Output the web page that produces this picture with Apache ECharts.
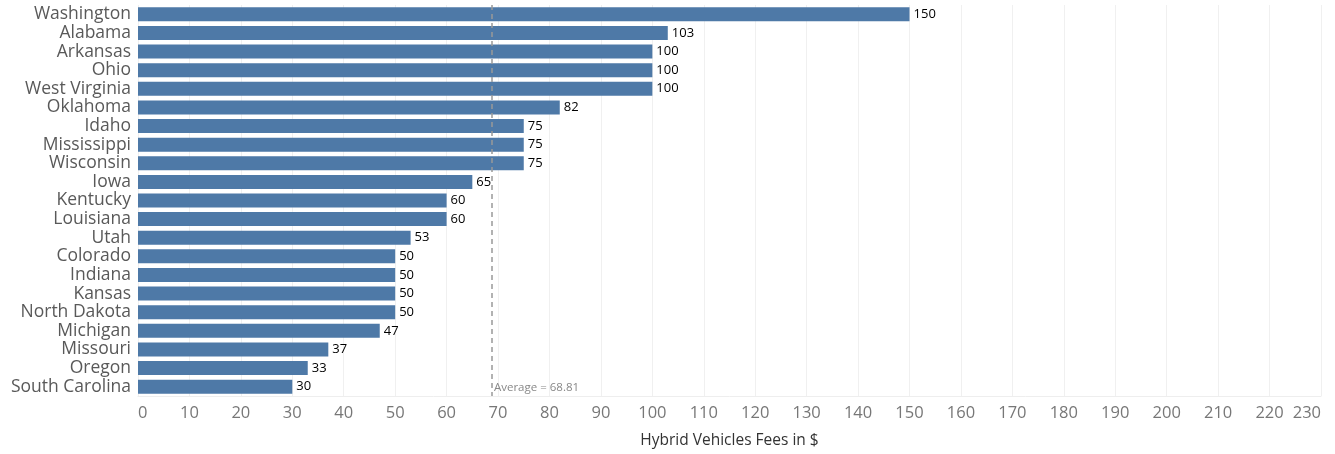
<!DOCTYPE html>
<html>
<head>
<meta charset="utf-8">
<script src="https://cdn.jsdelivr.net/npm/echarts@6/dist/echarts.min.js"></script>
<style>
  html, body { margin: 0; padding: 0; background: #fff; }
  #chart { width: 1335px; height: 454px; }
</style>
</head>
<body>
<div id="chart"></div>
<script>
// states, sorted by fee
const states = ['Washington', 'Alabama', 'Arkansas', 'Ohio', 'West Virginia', 'Oklahoma', 'Idaho',
  'Mississippi', 'Wisconsin', 'Iowa', 'Kentucky', 'Louisiana', 'Utah', 'Colorado', 'Indiana',
  'Kansas', 'North Dakota', 'Michigan', 'Missouri', 'Oregon', 'South Carolina'];
const fees = [150, 103, 100, 100, 100, 82, 75, 75, 75, 65, 60, 60, 53, 50, 50, 50, 50, 47, 37, 33, 30];
const average = 68.81;
const axisTitle = 'Hybrid Vehicles Fees in $';

const chart = echarts.init(document.getElementById('chart'));

chart.setOption({
  animation: false,
  grid: { left: 138, right: 14, top: 5, bottom: 57 },
  xAxis: {
    type: 'value',
    min: 0,
    max: 230,
    interval: 10,
    name: axisTitle,
    nameLocation: 'middle',
    nameGap: 37,
    nameTextStyle: { fontFamily: 'Open Sans', fontSize: 15.5, fontWeight: 500, color: '#333' },
    axisLine: { show: true, lineStyle: { color: '#eeeeee' } },
    axisTick: { show: false },
    axisLabel: {
      fontFamily: 'Open Sans', fontSize: 16.5, color: '#777', margin: 9,
      alignMinLabel: 'left', alignMaxLabel: 'right'
    },
    splitLine: { show: true, lineStyle: { color: '#f0f0f0' } }
  },
  yAxis: {
    type: 'category',
    data: states,
    inverse: true,
    axisLine: { show: false },
    axisTick: { show: false },
    axisLabel: { interval: 0, fontFamily: 'Open Sans', fontSize: 17.5, fontWeight: 500, color: '#595959', margin: 7 }
  },
  series: [{
    type: 'bar',
    data: fees,
    barWidth: 14,
    itemStyle: { color: '#4e79a7' },
    label: {
      show: true, position: 'right', distance: 4,
      fontFamily: 'Open Sans', fontSize: 13, fontWeight: 500, color: '#000'
    },
    markLine: {
      silent: true,
      symbol: 'none',
      lineStyle: { type: [5, 4], color: '#999', width: 1.5 },
      label: {
        show: true, position: 'insideEndTop', formatter: 'Average = ' + average,
        fontFamily: 'Open Sans', fontSize: 11.5, color: '#888', rotate: 0, distance: [4, 2],
        align: 'left', padding: [0, 0, 0, 6]
      },
      data: [{ xAxis: average }]
    }
  }]
});
</script>
</body>
</html>
